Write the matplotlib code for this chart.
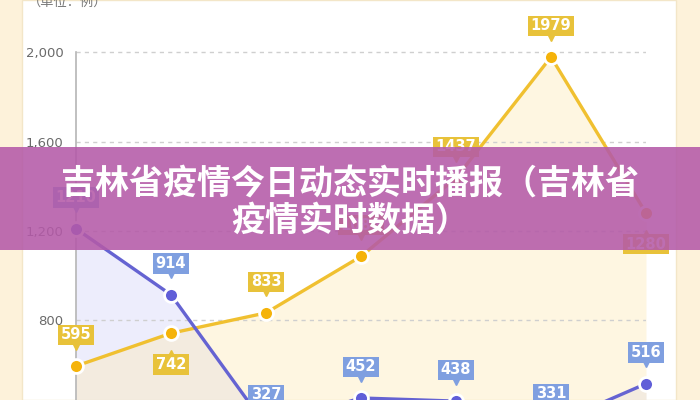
import numpy as np
import matplotlib.pyplot as plt
from matplotlib.patches import Rectangle
from matplotlib.transforms import offset_copy

plt.rcParams['font.family'] = ['Noto Sans CJK SC', 'DejaVu Sans']

# data
days = np.arange(7)
yellow_vals = [595, 742, 833, 1086, 1437, 1979, 1280]
blue_vals = [1210, 914, 327, 452, 438, 331, 516]
yellow_below = [False, True, False, False, False, False, True]
yticks = [800, 1200, 1600, 2000]
unit_label = "（单位：例）"
title_lines = ["吉林省疫情今日动态实时播报（吉林省", "疫情实时数据）"]

YEL_LINE = '#f0c030'
YEL_DOT = '#f5b30a'
YEL_BOX = '#e8c23a'
BLU_LINE = '#6563d2'
BLU_DOT = '#605ed8'
BLU_BOX = '#7f9fe0'

fig = plt.figure(figsize=(7, 4), dpi=100)
fig.patch.set_facecolor('#fdf2da')
# white card behind the chart
fig.patches.append(Rectangle((22/700, 0), (676-22)/700, 1, transform=fig.transFigure,
                             facecolor='white', edgecolor='#f3e6c8', lw=1, zorder=-1))

ax = fig.add_axes([76/700, 0, (646-76)/700, 1])
ax.patch.set_alpha(0)
ax.set_xlim(0, 6)
ax.set_ylim(443, 2234)

for s in ['top', 'right', 'bottom']:
    ax.spines[s].set_visible(False)
ax.spines['left'].set_color('#b5b5b5')
ax.spines['left'].set_linewidth(1.2)
ax.spines['left'].set_bounds(443, 2000)
ax.set_xticks([])
ax.set_yticks(yticks)
ax.set_yticklabels([f"{v:,}" for v in yticks], color='#6a6a6a', fontsize=9.5,
                   family=['DejaVu Sans'])
ax.tick_params(axis='y', length=0, pad=9)
ax.grid(axis='y', color='#cfcfcf', linestyle=(0, (3, 3)), linewidth=1)

# fills
ax.fill_between(days, blue_vals, 443, color='#e2e2fb', alpha=0.6, lw=0, zorder=1)
ax.fill_between(days, yellow_vals, 443, color='#fdeab5', alpha=0.4, lw=0, zorder=1)

ax.plot(days, yellow_vals, color=YEL_LINE, lw=2.4, zorder=3, clip_on=False)
ax.plot(days, blue_vals, color=BLU_LINE, lw=2.4, zorder=4, clip_on=False)
ax.plot(days, yellow_vals, 'o', ms=10, mfc=YEL_DOT, mec='white', mew=2, zorder=5, clip_on=False)
ax.plot(days, blue_vals, 'o', ms=10, mfc=BLU_DOT, mec='white', mew=2, zorder=5, clip_on=False)


def value_tag(x, y, val, color, below=False):
    sign = -1 if below else 1
    ax.annotate(str(val), (x, y), xytext=(0, sign * 22.5), textcoords='offset points',
                ha='center', va='center', fontsize=10.5, fontweight='bold', color='white',
                family=['DejaVu Sans'],
                bbox=dict(boxstyle='square,pad=0.18', fc=color, ec='none'),
                zorder=6, annotation_clip=False)
    tr = offset_copy(ax.transData, fig=fig, x=0, y=sign * 14, units='points')
    ax.plot([x], [y], marker='^' if below else 'v', ms=5, color=color, transform=tr,
            zorder=6, clip_on=False)


for x, v, b in zip(days, yellow_vals, yellow_below):
    value_tag(x, v, v, YEL_BOX, below=b)
for x, v in zip(days, blue_vals):
    value_tag(x, v, v, BLU_BOX)

fig.text(28/700, 0.995, unit_label, ha='left', va='center', fontsize=9.5, color='#777777')

# banner over the chart
fig.patches.append(Rectangle((0, 1 - 250/400), 1, (250-147)/400, transform=fig.transFigure,
                             facecolor='#b45aa8', alpha=0.88, edgecolor='none', zorder=10))
fig.text(0.5, 1 - 183/400, title_lines[0], ha='center', va='center', fontsize=24.5,
         fontweight=900, color='white', zorder=11)
fig.text(0.5, 1 - 220/400, title_lines[1], ha='center', va='center', fontsize=24.5,
         fontweight=900, color='white', zorder=11)

fig.savefig('out.png', dpi=100)
